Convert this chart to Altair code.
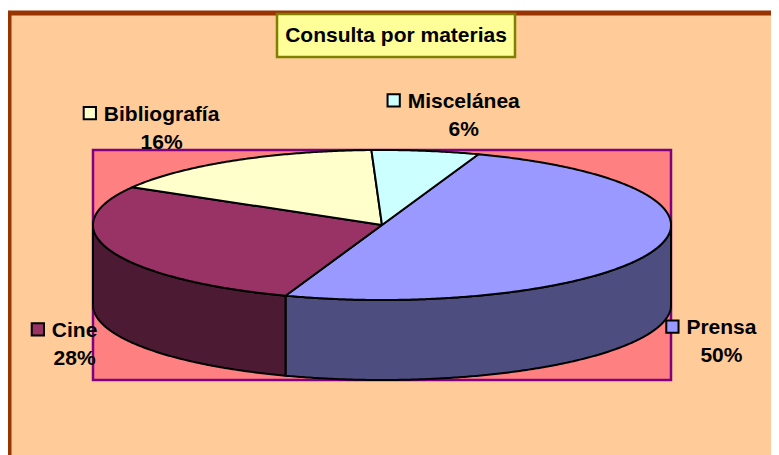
import math
import altair as alt
import pandas as pd

# ---------------- data ----------------
categories = ["Prensa", "Cine", "Bibliografía", "Miscelánea"]
values = [50, 28, 16, 6]
top_colors = ["#9999FF", "#993366", "#FFFFCC", "#CCFFFF"]
side_colors = ["#4D4D80", "#4D1A33", "#80806A", "#6A8080"]
title_text = "Consulta por materias"

# ---------------- layout (screen-pixel coordinate space) ----------------
CX, CY, RX, RY, DEPTH = 382, 225, 289, 75, 80
START = 19.5          # start angle of the first slice (degrees, clockwise from top)
FONT = "Liberation Sans"
FS = 21
# nudges of each label from its slice's mid-angle anchor
label_nudge = {"Prensa": (67, 4), "Cine": (-36, 6), "Bibliografía": (-72, -40), "Miscelánea": (38, -43)}
# Arial-bold advance widths (per 1000 em) to place the legend keys
CW = {"B": 722, "i": 278, "b": 611, "l": 278, "o": 611, "g": 611, "r": 389, "a": 556, "f": 333,
      "í": 278, "M": 833, "s": 556, "c": 556, "e": 556, "á": 556, "n": 611, "C": 722, "P": 667}


def pt(t, dy=0.0):
    r = math.radians(t)
    return CX + RX * math.sin(r), CY - RY * math.cos(r) + dy


total = sum(values)
rows_top, rows_side, rows_lab, rows_key = [], [], [], []
a0 = START
for k, (cat, v) in enumerate(zip(categories, values)):
    a1 = a0 + 360.0 * v / total
    # top face
    n = max(2, int((a1 - a0) / 0.5))
    pts = [(CX, CY)] + [pt(a0 + (a1 - a0) * j / n) for j in range(n + 1)] + [(CX, CY)]
    for i, (x, y) in enumerate(pts):
        rows_top.append({"poly": cat, "fill": top_colors[k], "i": i, "x": x, "y": y})
    # visible side (front half: 90..270 deg)
    lo, hi = max(a0 % 360, 90), min(a1 % 360 if a1 % 360 > a0 % 360 else a1, 270)
    if hi > lo:
        m = max(2, int((hi - lo) / 0.5))
        upper = [pt(lo + (hi - lo) * j / m) for j in range(m + 1)]
        lower = [pt(lo + (hi - lo) * j / m, DEPTH) for j in range(m + 1)][::-1]
        sp = upper + lower + [upper[0]]
        for i, (x, y) in enumerate(sp):
            rows_side.append({"poly": cat, "fill": side_colors[k], "i": i, "x": x, "y": y})
    # label
    mid = (a0 + a1) / 2
    ax, ay = pt(mid, DEPTH if math.cos(math.radians(mid)) < 0 else 0)
    nx, ny = label_nudge[cat]
    lx, ly = ax + nx, ay + ny
    pct = f"{round(100 * v / total)}%"
    rows_lab.append({"x": lx, "y": ly, "t": f"{cat}\n{pct}"})
    w = sum(CW.get(c, 556) for c in cat) * FS / 1000
    rows_key.append({"x": lx - w / 2 - 14, "y": ly - 7.5, "fill": top_colors[k]})
    a0 = a1

top_df = pd.DataFrame(rows_top)
side_df = pd.DataFrame(rows_side)
lab_df = pd.DataFrame(rows_lab)
key_df = pd.DataFrame(rows_key)
area_df = pd.DataFrame([{"x": CX - RX, "x2": CX + RX, "y": CY - RY, "y2": CY + RY + DEPTH}])
tbox_df = pd.DataFrame([{"x": 277, "x2": 515, "y": 14, "y2": 57, "tx": 396, "ty": 42, "t": title_text}])

X = alt.Scale(domain=[9, 779], nice=False, zero=False)
Y = alt.Scale(domain=[13, 463], nice=False, zero=False, reverse=True)
xq = lambda f: alt.X(f"{f}:Q", scale=X, axis=None)
yq = lambda f: alt.Y(f"{f}:Q", scale=Y, axis=None)

plot_area = alt.Chart(area_df).mark_rect(fill="#FF8080", stroke="#800080", strokeWidth=2.5).encode(
    x=xq("x"), x2="x2", y=yq("y"), y2="y2")

sides = alt.Chart(side_df).mark_line(filled=True, stroke="black", strokeWidth=2, strokeJoin="round").encode(
    x=xq("x"), y=yq("y"), color=alt.Color("fill:N", scale=None), detail="poly:N", order="i:Q")

tops = alt.Chart(top_df).mark_line(filled=True, stroke="black", strokeWidth=2, strokeJoin="round").encode(
    x=xq("x"), y=yq("y"), color=alt.Color("fill:N", scale=None), detail="poly:N", order="i:Q")

tbox = alt.Chart(tbox_df).mark_rect(fill="#FFFF99", stroke="#808000", strokeWidth=2.5).encode(
    x=xq("x"), x2="x2", y=yq("y"), y2="y2")
ttext = alt.Chart(tbox_df).mark_text(font=FONT, fontWeight="bold", fontSize=FS, align="center",
                                      baseline="alphabetic", color="black").encode(
    x=xq("tx"), y=yq("ty"), text="t:N")

keys = alt.Chart(key_df).mark_square(size=150, stroke="black", strokeWidth=2, opacity=1).encode(
    x=xq("x"), y=yq("y"), fill=alt.Fill("fill:N", scale=None))

labels = alt.Chart(lab_df).mark_text(font=FONT, fontWeight="bold", fontSize=FS, align="center",
                                     baseline="alphabetic", lineBreak="\n", lineHeight=28,
                                     color="black").encode(
    x=xq("x"), y=yq("y"), text="t:N")

chart = alt.layer(plot_area, sides, tops, tbox, ttext, keys, labels).properties(
    width=770, height=450,
    autosize=alt.AutoSizeParams(type="none"),
    padding={"left": 1, "top": 5, "right": -8, "bottom": 0},
    background="white",
).configure_view(fill="#FFCC99", stroke="#993300", strokeWidth=5)

chart.save("out.html", embed_options={"renderer": "svg", "actions": False})
